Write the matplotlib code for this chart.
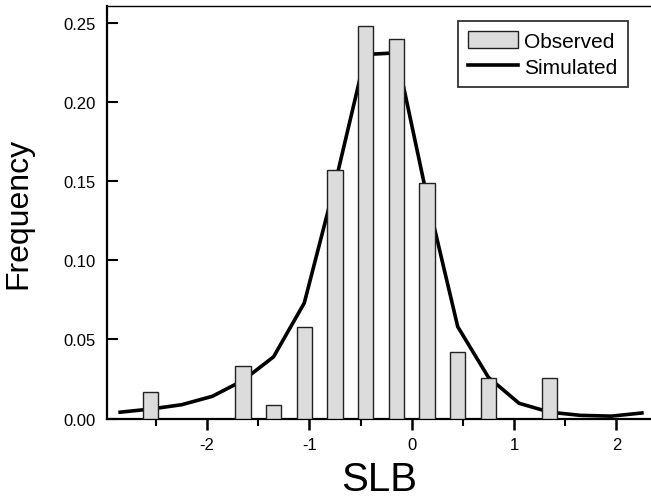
import matplotlib
matplotlib.use("Agg")
import matplotlib.pyplot as plt
from matplotlib.ticker import MultipleLocator

plt.rcParams["font.family"] = ["Liberation Sans", "DejaVu Sans"]
plt.rcParams["axes.unicode_minus"] = False

# observed histogram (bin centres and relative frequencies)
obs_x = [-2.55, -1.65, -1.35, -1.05, -0.75, -0.45, -0.15, 0.15, 0.45, 0.75, 1.35]
obs_freq = [0.0165, 0.033, 0.0087, 0.058, 0.157, 0.248, 0.240, 0.149, 0.042, 0.0256, 0.0258]

# simulated distribution
sim_x = [-2.85, -2.55, -2.25, -1.95, -1.65, -1.35, -1.05, -0.75, -0.45,
         -0.15, 0.15, 0.45, 0.75, 1.05, 1.35, 1.65, 1.95, 2.25]
sim_freq = [0.004, 0.006, 0.0087, 0.014, 0.024, 0.039, 0.073, 0.148, 0.230,
            0.231, 0.140, 0.058, 0.026, 0.0096, 0.004, 0.002, 0.0015, 0.0035]

fig = plt.figure(figsize=(6.51, 5.02), dpi=100)
ax = fig.add_axes([0.1644, 0.1643, 0.8356, 0.822])

ax.plot(sim_x, sim_freq, color="black", linewidth=2.6, zorder=2,
        label="Simulated", solid_joinstyle="miter")
ax.bar(obs_x, obs_freq, width=0.15, facecolor="#dcdcdc", edgecolor="#222222",
       linewidth=1.0, zorder=3, label="Observed")

ax.set_xlim(-2.978, 2.339)
ax.set_ylim(0, 0.2607)

ax.xaxis.set_major_locator(MultipleLocator(1))
ax.xaxis.set_minor_locator(MultipleLocator(0.5))
ax.yaxis.set_major_locator(MultipleLocator(0.05))
ax.yaxis.set_major_formatter(plt.FormatStrFormatter("%.2f"))

ax.tick_params(axis="x", which="major", direction="out", length=8, width=1.8,
               labelsize=12, pad=5)
ax.tick_params(axis="x", which="minor", direction="out", length=5, width=1.5)
ax.tick_params(axis="y", which="major", direction="in", length=8, width=1.5,
               labelsize=12, pad=8)

for side in ("left", "bottom"):
    ax.spines[side].set_linewidth(1.6)
ax.spines["top"].set_linewidth(1.0)
ax.spines["right"].set_visible(False)

ax.set_xlabel("SLB", fontsize=29, labelpad=6)
ax.set_ylabel("Frequency", fontsize=23, labelpad=22)

handles, labels = ax.get_legend_handles_labels()
leg = ax.legend(handles[::-1], labels[::-1], loc="upper right",
                bbox_to_anchor=(0.958, 0.964), borderaxespad=0, fontsize=15,
                frameon=True, fancybox=False, edgecolor="black",
                handlelength=2.4, handleheight=0.9, handletextpad=0.3,
                labelspacing=0.3, borderpad=0.5)
leg.get_frame().set_linewidth(1.3)

fig.savefig("out.png", dpi=100)
